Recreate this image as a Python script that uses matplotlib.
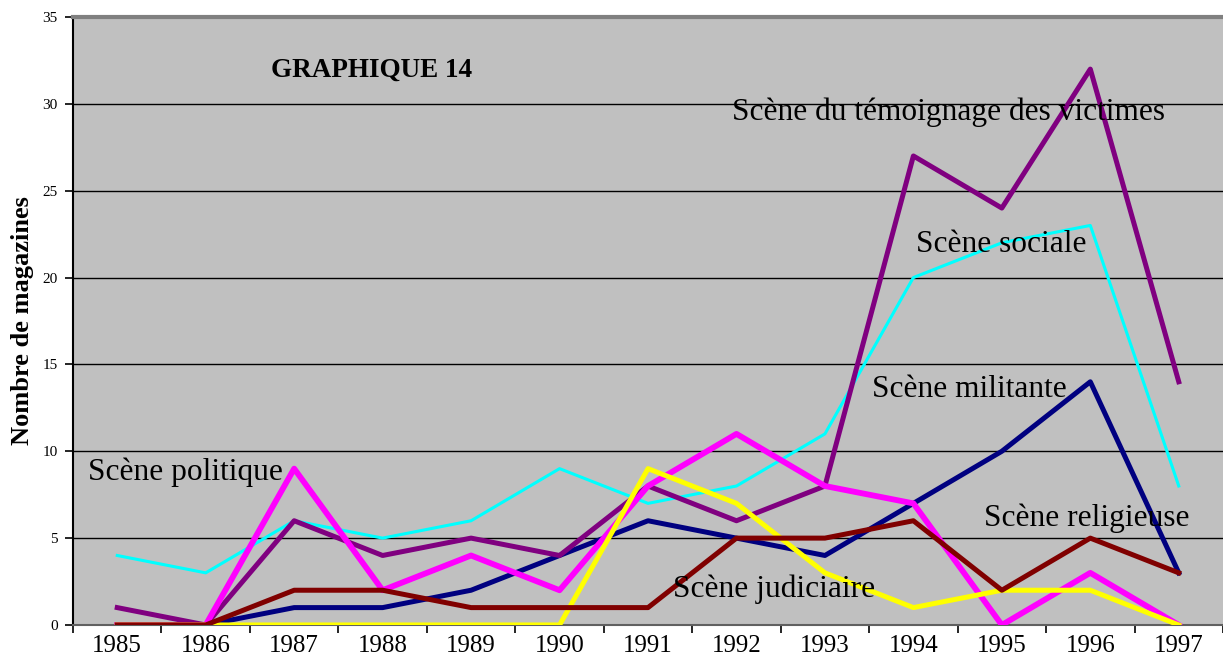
import matplotlib
matplotlib.use("Agg")
import matplotlib.pyplot as plt

years = ["1985", "1986", "1987", "1988", "1989", "1990", "1991",
         "1992", "1993", "1994", "1995", "1996", "1997"]

victimes = [1, 0, 6, 4, 5, 4, 8, 6, 8, 27, 24, 32, 14]
sociale = [4, 3, 6, 5, 6, 9, 7, 8, 11, 20, 22, 23, 8]
militante = [0, 0, 1, 1, 2, 4, 6, 5, 4, 7, 10, 14, 3]
politique = [0, 0, 9, 2, 4, 2, 8, 11, 8, 7, 0, 3, 0]
judiciaire = [0, 0, 0, 0, 0, 0, 9, 7, 3, 1, 2, 2, 0]
religieuse = [0, 0, 2, 2, 1, 1, 1, 5, 5, 6, 2, 5, 3]

serif = ["Liberation Serif", "DejaVu Serif"]

fig = plt.figure(figsize=(12.23, 6.66), dpi=100)
ax = fig.add_axes([0.0597, 0.0616, 0.9403, 0.9129])
ax.set_facecolor("#C0C0C0")

x = list(range(len(years)))
ax.plot(x, sociale, color="#00FFFF", lw=2.2, zorder=3)
ax.plot(x, militante, color="#000080", lw=3.6, zorder=4)
ax.plot(x, victimes, color="#800080", lw=3.6, zorder=5)
ax.plot(x, politique, color="#FF00FF", lw=4.2, zorder=6)
ax.plot(x, judiciaire, color="#FFFF00", lw=3.6, zorder=7)
ax.plot(x, religieuse, color="#800000", lw=3.6, zorder=8)

ax.set_ylim(0, 35)
ax.set_xlim(-0.5, 12.41)
ax.set_yticks(range(0, 36, 5))
ax.yaxis.grid(True, color="black", lw=1.0)
ax.set_axisbelow(True)

ax.set_xticks(x)
ax.set_xticklabels(years, fontfamily=serif, fontsize=18)
ax.set_xticks([i + 0.5 for i in range(-1, 13)], minor=True)
ax.tick_params(axis="x", which="major", length=0, pad=7)
ax.tick_params(axis="x", which="minor", length=6, width=1.2, direction="out")
ax.tick_params(axis="y", length=6, width=1.2, direction="out", labelsize=11,
               pad=5)
for lab in ax.get_yticklabels():
    lab.set_fontfamily(serif)

ax.spines["right"].set_visible(False)
ax.spines["top"].set_color("#808080")
ax.spines["top"].set_linewidth(3)
ax.spines["left"].set_linewidth(1.5)
ax.spines["bottom"].set_linewidth(1.5)
ax.spines["bottom"].set_color("#606060")

ax.set_ylabel("Nombre de magazines", fontfamily=serif, fontweight="bold",
              fontsize=19, labelpad=6)

ax.text(0.172, 0.901, "GRAPHIQUE 14", transform=ax.transAxes,
        fontfamily=serif, fontweight="bold", fontsize=19.5, va="baseline")

lbl = dict(fontfamily=serif, fontsize=22.6, va="baseline", ha="left",
           zorder=10)
ax.text(6.95, 29.07, "Scène du témoignage des victimes", **lbl)
ax.text(9.03, 21.47, "Scène sociale", **lbl)
ax.text(8.53, 13.1, "Scène militante", **lbl)
ax.text(-0.33, 8.35, "Scène politique", **lbl)
ax.text(9.80, 5.70, "Scène religieuse", **lbl)
ax.text(6.28, 1.61, "Scène judiciaire", **lbl)

fig.savefig("out.png", dpi=100)
